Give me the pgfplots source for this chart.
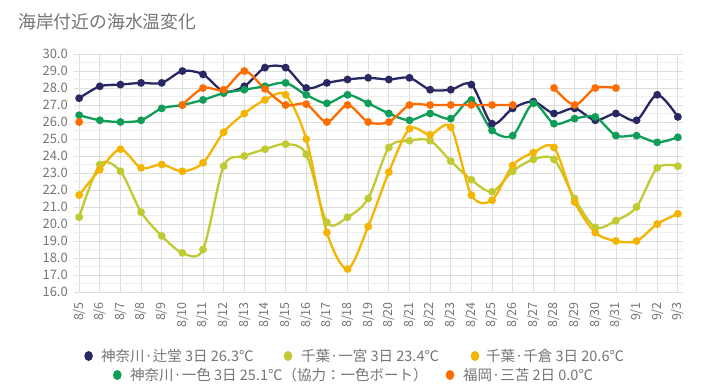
\documentclass[border=0pt]{standalone}
\usepackage{pgfplots}
\pgfplotsset{compat=1.18}
\usepackage{fontspec}
\setmainfont{Noto Sans CJK JP}
\definecolor{cnavy}{HTML}{2A2862}
\definecolor{cyg}{HTML}{C0CA33}
\definecolor{cyel}{HTML}{F4B400}
\definecolor{cgreen}{HTML}{0F9D58}
\definecolor{corange}{HTML}{FF6D00}
\definecolor{tgray}{HTML}{757575}
\definecolor{gmaj}{HTML}{DDDDDD}
\definecolor{gmin}{HTML}{EEEEEE}
\begin{document}
\begin{tikzpicture}[x=1pt,y=1pt]
\useasboundingbox (0,0) rectangle (717,-388);
\node[anchor=west, inner sep=0pt, text=tgray, font=\fontsize{17.8}{19}\selectfont] at (18,-22) {海岸付近の海水温変化};
\begin{axis}[
  at={(74pt,-292pt)}, anchor=south west,
  scale only axis, width=609pt, height=238pt,
  xmin=-0.25, xmax=29.25, ymin=16, ymax=30,
  axis line style={draw=none}, tick style={draw=none},
  xtick={0,...,29},
  xticklabels={8/5,8/6,8/7,8/8,8/9,8/10,8/11,8/12,8/13,8/14,8/15,8/16,8/17,8/18,8/19,8/20,8/21,8/22,8/23,8/24,8/25,8/26,8/27,8/28,8/29,8/30,8/31,9/1,9/2,9/3},
  x tick label style={rotate=90, anchor=east, inner sep=0pt, font=\fontsize{12.5}{12.5}\selectfont, text=tgray},
  xticklabel shift=10pt,
  ytick={16,17,...,30},
  minor ytick={16.5,17.5,...,29.5},
  y tick label style={anchor=east, inner sep=0pt, font=\fontsize{13}{13}\selectfont, text=tgray},
  yticklabel shift=6pt,
  yticklabel style={/pgf/number format/.cd, fixed, fixed zerofill, precision=1, assume math mode=true},
  xmajorgrids, ymajorgrids, yminorgrids,
  major grid style={draw=gmaj, line width=0.8pt},
  minor grid style={draw=gmin, line width=0.8pt},
  every axis plot/.append style={line width=2.3pt, mark=*, mark size=2.7pt, smooth, tension=0.5},
  clip=false,
]
% 神奈川・辻堂
\addplot[cnavy] coordinates {(0,27.4)(1,28.1)(2,28.2)(3,28.3)(4,28.3)(5,29.0)(6,28.8)(7,27.8)(8,28.1)(9,29.2)(10,29.2)(11,28.0)(12,28.3)(13,28.5)(14,28.6)(15,28.5)(16,28.6)(17,27.9)(18,27.9)(19,28.2)(20,25.9)(21,26.8)(22,27.2)(23,26.5)(24,26.8)(25,26.1)(26,26.5)(27,26.1)(28,27.6)(29,26.3)};
% 千葉・一宮
\addplot[cyg] coordinates {(0,20.4)(1,23.5)(2,23.1)(3,20.7)(4,19.3)(5,18.3)(6,18.5)(7,23.4)(8,24.0)(9,24.4)(10,24.7)(11,24.1)(12,20.1)(13,20.4)(14,21.5)(15,24.5)(16,24.9)(17,24.9)(18,23.7)(19,22.6)(20,21.9)(21,23.1)(22,23.8)(23,23.8)(24,21.5)(25,19.8)(26,20.2)(27,21.0)(28,23.3)(29,23.4)};
% 千葉・千倉
\addplot[cyel] coordinates {(0,21.7)(1,23.2)(2,24.4)(3,23.3)(4,23.5)(5,23.1)(6,23.6)(7,25.4)(8,26.5)(9,27.3)(10,27.6)(11,25.0)(12,19.5)(13,17.35)(14,19.85)(15,23.05)(16,25.6)(17,25.25)(18,25.7)(19,21.7)(20,21.4)(21,23.45)(22,24.2)(23,24.5)(24,21.3)(25,19.5)(26,19.0)(27,19.0)(28,20.0)(29,20.6)};
% 神奈川・一色
\addplot[cgreen] coordinates {(0,26.4)(1,26.1)(2,26.0)(3,26.1)(4,26.8)(5,27.0)(6,27.3)(7,27.7)(8,27.9)(9,28.1)(10,28.3)(11,27.6)(12,27.1)(13,27.6)(14,27.1)(15,26.5)(16,26.1)(17,26.5)(18,26.2)(19,27.3)(20,25.5)(21,25.2)(22,27.1)(23,25.9)(24,26.2)(25,26.3)(26,25.2)(27,25.2)(28,24.8)(29,25.1)};
% 福岡・三苫
\addplot[corange] coordinates {(0,26.0)};
\addplot[corange] coordinates {(5,27.0)(6,28.0)(7,27.9)(8,29.0)(9,27.95)(10,27.0)(11,27.05)(12,26.0)(13,27.0)(14,26.0)(15,26.0)(16,27.0)(17,27.0)(18,27.0)(19,27.0)(20,27.0)(21,27.0)};
\addplot[corange] coordinates {(23,28.0)(24,27.0)(25,28.0)(26,28.0)};
\end{axis}
\begin{scope}[every node/.style={anchor=west, inner sep=0pt, text=tgray, font=\fontsize{14.5}{14.5}\selectfont}]
\fill[cnavy] (88.6,-356) ellipse (4.3 and 5);
\node at (101,-356) {神奈川·辻堂 3日 26.3℃};
\fill[cyg] (288,-356) ellipse (4.3 and 5);
\node at (301,-356) {千葉·一宮 3日 23.4℃};
\fill[cyel] (475,-356) ellipse (4.3 and 5);
\node at (486,-356) {千葉·千倉 3日 20.6℃};
\fill[cgreen] (117.3,-375) ellipse (4.3 and 5);
\node at (130,-375) {神奈川·一色 3日 25.1℃（協力：一色ボート）};
\fill[corange] (450,-375) ellipse (4.3 and 5);
\node at (463,-375) {福岡·三苫 2日 0.0℃};
\end{scope}
\end{tikzpicture}
\end{document}
